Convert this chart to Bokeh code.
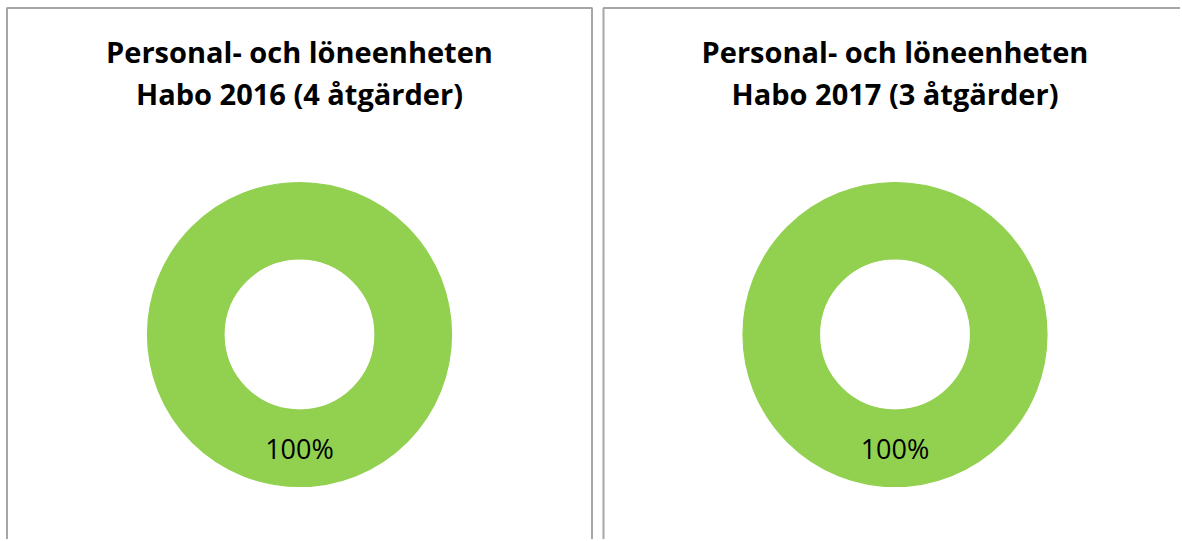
import math
from bokeh.plotting import figure
from bokeh.models import Range1d, ColumnDataSource
from bokeh.core.properties import value
from bokeh.embed import file_html
from bokeh.resources import INLINE

# ---- data ----
titles = [
    "Personal- och löneenheten\nHabo 2016 (4 åtgärder)",
    "Personal- och löneenheten\nHabo 2017 (3 åtgärder)",
]
categories = ["Genomförd"]
values_2016 = [4]
values_2017 = [3]
series = [values_2016, values_2017]
colors = ["#92D050"]

# ---- layout (screen pixels of the window) ----
W, H = 1180, 539
p = figure(width=W, height=H, output_backend="svg", toolbar_location=None,
           x_range=Range1d(0, W), y_range=Range1d(H, 0),
           min_border=0, outline_line_color=None)
p.axis.visible = False
p.grid.visible = False
p.background_fill_color = "white"
p.border_fill_color = "white"

panel_left = [6.5, 603.0]
panel_right = [591.5, 1200.0]
panel_top = 7.5
panel_bottom = 560.0
centers_x = [299.0, 894.5]
center_y = 334.0
r_in, r_out = 75.5, 152.0
title_y = [51.0, 93.0]

# panel borders
p.quad(left=panel_left, right=panel_right, top=[panel_top] * 2, bottom=[panel_bottom] * 2,
       fill_color=None, line_color="#A6A6A6", line_width=2)

for i, vals in enumerate(series):
    total = sum(vals)
    start = math.pi / 2  # Excel doughnut starts at top, goes clockwise
    wx, wy, ws, we, wc = [], [], [], [], []
    lx, ly, lt = [], [], []
    for j, v in enumerate(vals):
        share = v / total
        a0 = -start
        a1 = a0 + 2 * math.pi * share
        if share >= 0.9999:
            mid = (a0 + a1) / 2
            wx += [centers_x[i]] * 2; wy += [center_y] * 2
            ws += [a0, mid]; we += [mid, a1]; wc += [colors[j]] * 2
        else:
            wx.append(centers_x[i]); wy.append(center_y)
            ws.append(a0); we.append(a1); wc.append(colors[j])
        amid = (a0 + a1) / 2
        rm = (r_in + r_out) / 2
        lx.append(centers_x[i] + rm * math.cos(amid))
        ly.append(center_y + rm * math.sin(amid))
        lt.append(f"{share * 100:.0f}%")
        start -= 2 * math.pi * share
    src = ColumnDataSource(dict(x=wx, y=wy, s=ws, e=we, c=wc))
    p.annular_wedge(x="x", y="y", inner_radius=r_in, outer_radius=r_out,
                    inner_radius_units="screen", outer_radius_units="screen",
                    start_angle="s", end_angle="e", fill_color="c", line_color="c",
                    line_width=1.2, source=src)
    p.text(x=lx, y=ly, text=lt, text_align="center", text_baseline="middle",
           text_font=value("Open Sans"), text_font_size="27px", text_color="#000000")

    lines = titles[i].split("\n")
    p.text(x=[centers_x[i]] * len(lines), y=title_y[:len(lines)], text=lines,
           text_align="center", text_baseline="alphabetic",
           text_font=value("Open Sans"), text_font_style="bold",
           text_font_size="29px", text_color="#000000")

open("out.html", "w").write(file_html(p, INLINE))
